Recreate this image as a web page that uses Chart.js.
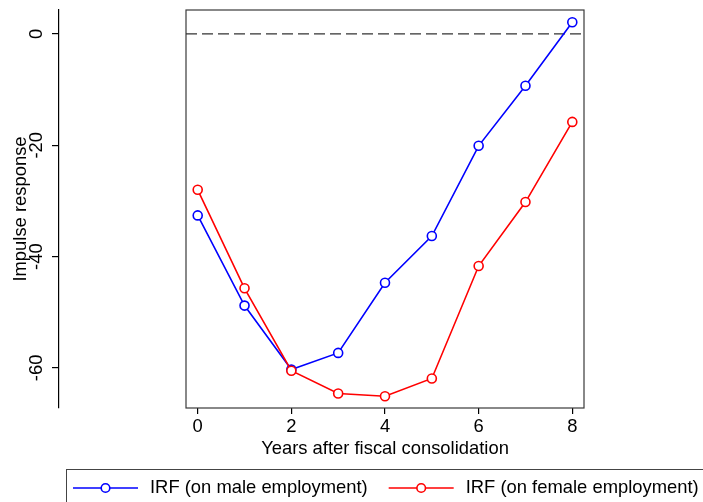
<!DOCTYPE html>
<html>
<head>
<meta charset="utf-8">
<script src="https://cdn.jsdelivr.net/npm/chart.js@4/dist/chart.umd.min.js"></script>
<style>
  html, body { margin: 0; padding: 0; background: #fff; }
  #wrap { width: 703px; height: 502px; }
</style>
</head>
<body>
<div id="wrap"><canvas id="c" width="703" height="502"></canvas></div>
<script>
// Impulse responses of employment to a fiscal consolidation, by sex
const years = [0, 1, 2, 3, 4, 5, 6, 7, 8];
const maleIRF = [-32.6, -48.8, -60.3, -57.3, -44.7, -36.3, -20.1, -9.3, 2.1];
const femaleIRF = [-28.0, -45.7, -60.5, -64.6, -65.1, -61.9, -41.7, -30.2, -15.8];
const xTicks = [0, 2, 4, 6, 8];
const yTicks = [0, -20, -40, -60];
const seriesLabels = ['IRF (on male employment)', 'IRF (on female employment)'];
const xTitle = 'Years after fiscal consolidation';
const yTitle = 'Impulse response';

const FAMILY = "'Liberation Sans', Arial, Helvetica, sans-serif";
const FONT = { family: FAMILY, size: 18.4 };

function toPoints(vals) {
  return years.map((x, i) => ({ x: x, y: vals[i] }));
}

function seriesStyle(color) {
  return {
    borderColor: color,
    backgroundColor: '#ffffff',
    pointBackgroundColor: '#ffffff',
    pointBorderColor: color,
    pointRadius: 4.5,
    pointBorderWidth: 1.6,
    borderWidth: 1.6,
    tension: 0,
    clip: false
  };
}

// Plot-region frame, the dashed zero reference line and the boxed legend
const framePlugin = {
  id: 'frame',
  beforeDatasetsDraw(chart) {
    const { ctx, chartArea: a, scales } = chart;
    ctx.save();
    ctx.strokeStyle = '#3a3a3a';
    ctx.lineWidth = 1.2;
    ctx.strokeRect(a.left, a.top, a.right - a.left, a.bottom - a.top);
    const y0 = scales.y.getPixelForValue(0);
    ctx.strokeStyle = '#333';
    ctx.lineWidth = 1.3;
    ctx.setLineDash([11, 5]);
    ctx.beginPath();
    ctx.moveTo(a.left, y0);
    ctx.lineTo(a.right, y0);
    ctx.stroke();
    ctx.restore();
  },
  afterDraw(chart) {
    const { ctx } = chart;
    ctx.save();
    ctx.strokeStyle = '#444';
    ctx.lineWidth = 1;
    ctx.strokeRect(66.5, 469.5, 700, 100);
    ctx.font = `${FONT.size}px ${FAMILY}`;
    ctx.textBaseline = 'middle';
    ctx.textAlign = 'left';
    const cy = 488;
    let x = 73;
    chart.data.datasets.forEach(ds => {
      const x1 = x + 65;
      ctx.strokeStyle = ds.borderColor;
      ctx.lineWidth = 1.6;
      ctx.beginPath();
      ctx.moveTo(x, cy);
      ctx.lineTo(x1, cy);
      ctx.stroke();
      ctx.beginPath();
      ctx.arc((x + x1) / 2, cy, 4.3, 0, Math.PI * 2);
      ctx.fillStyle = '#fff';
      ctx.fill();
      ctx.stroke();
      ctx.fillStyle = '#000';
      const tx = x1 + 12;
      ctx.fillText(ds.label, tx, cy);
      x = tx + ctx.measureText(ds.label).width + 21;
    });
    ctx.restore();
  }
};

new Chart(document.getElementById('c'), {
  type: 'line',
  data: {
    datasets: [
      Object.assign({ label: seriesLabels[0], data: toPoints(maleIRF), order: 1 }, seriesStyle('#0000ff')),
      Object.assign({ label: seriesLabels[1], data: toPoints(femaleIRF), order: 0 }, seriesStyle('#ff0000'))
    ]
  },
  options: {
    responsive: false,
    animation: false,
    devicePixelRatio: 1,
    layout: { padding: { left: 0, right: 119, top: 10, bottom: 42 } },
    plugins: {
      legend: { display: false },
      tooltip: { enabled: false }
    },
    scales: {
      x: {
        type: 'linear',
        position: 'bottom',
        min: -0.25,
        max: 8.25,
        afterBuildTicks: s => { s.ticks = xTicks.map(v => ({ value: v })); },
        afterFit: s => { s.height = 52; s.paddingLeft = 0; s.paddingRight = 0; },
        grid: { drawOnChartArea: false, drawTicks: true, tickLength: 6, color: '#000', lineWidth: 1.2 },
        border: { display: false },
        ticks: { color: '#000', font: FONT, padding: 2, maxRotation: 0, autoSkip: false },
        title: { display: true, text: xTitle, color: '#000', font: FONT, padding: { top: 0, bottom: 0 } }
      },
      y: {
        type: 'linear',
        position: 'left',
        weight: 1,
        min: -67.2,
        max: 4.3,
        afterBuildTicks: s => { s.ticks = yTicks.map(v => ({ value: v })); },
        afterFit: s => { s.width = 59; s.paddingTop = 0; s.paddingBottom = 0; },
        grid: { drawOnChartArea: false, drawTicks: true, tickLength: 7, color: '#000', lineWidth: 1.2 },
        border: { display: true, color: '#000', width: 1.2 },
        ticks: { color: '#000', font: FONT, padding: 2, minRotation: 90, maxRotation: 90, crossAlign: 'center', autoSkip: false },
        title: { display: true, text: yTitle, color: '#000', font: FONT, padding: { top: 10, bottom: 0 } }
      },
      gap: {
        type: 'linear',
        position: 'left',
        weight: 0,
        display: true,
        afterFit: s => { s.width = 127; s.paddingTop = 0; s.paddingBottom = 0; },
        grid: { display: false },
        border: { display: false },
        ticks: { display: false }
      }
    }
  },
  plugins: [framePlugin]
});
</script>
</body>
</html>
